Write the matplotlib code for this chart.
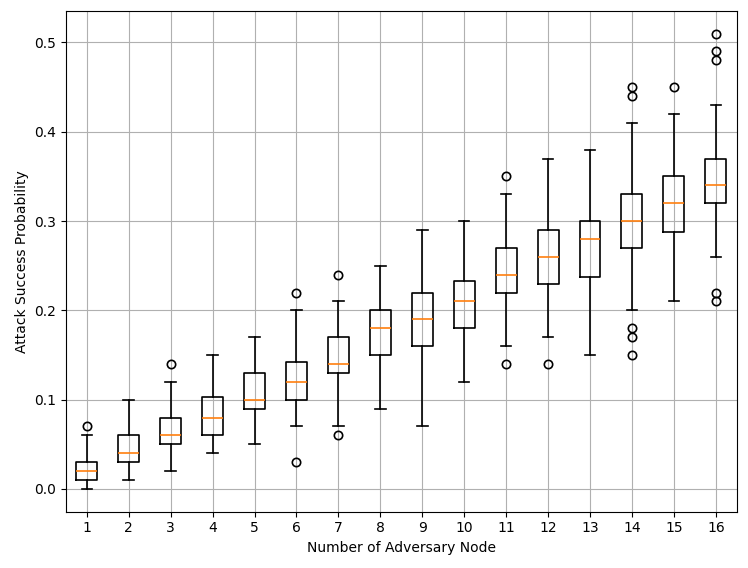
import matplotlib
matplotlib.use("Agg")
import matplotlib.pyplot as plt

# box statistics
nodes = list(range(1, 17))
whislo = [0.00, 0.01, 0.02, 0.04, 0.05, 0.07, 0.07, 0.09, 0.07, 0.12, 0.16, 0.17, 0.15, 0.20, 0.21, 0.26]
q1 = [0.01, 0.03, 0.05, 0.06, 0.09, 0.10, 0.13, 0.15, 0.16, 0.18, 0.22, 0.23, 0.2375, 0.27, 0.2875, 0.32]
med = [0.02, 0.04, 0.06, 0.08, 0.10, 0.12, 0.14, 0.18, 0.19, 0.21, 0.24, 0.26, 0.28, 0.30, 0.32, 0.34]
q3 = [0.03, 0.06, 0.08, 0.1025, 0.13, 0.1425, 0.17, 0.20, 0.22, 0.2325, 0.27, 0.29, 0.30, 0.33, 0.35, 0.37]
whishi = [0.06, 0.10, 0.12, 0.15, 0.17, 0.20, 0.21, 0.25, 0.29, 0.30, 0.33, 0.37, 0.38, 0.41, 0.42, 0.43]
fliers = [
    [0.07],
    [],
    [0.14],
    [],
    [],
    [0.22, 0.03],
    [0.24, 0.06],
    [],
    [],
    [],
    [0.35, 0.14],
    [0.14],
    [],
    [0.45, 0.44, 0.18, 0.17, 0.15],
    [0.45],
    [0.51, 0.49, 0.48, 0.22, 0.21],
]

stats = []
for i in range(len(nodes)):
    stats.append({
        "label": str(nodes[i]),
        "whislo": whislo[i],
        "q1": q1[i],
        "med": med[i],
        "q3": q3[i],
        "whishi": whishi[i],
        "fliers": fliers[i],
    })

lw = 1.2
fig, ax = plt.subplots(figsize=(7.48, 5.68), dpi=100)
ax.bxp(
    stats,
    positions=nodes,
    boxprops={"linewidth": lw},
    whiskerprops={"linewidth": lw},
    capprops={"linewidth": lw},
    medianprops={"linewidth": lw, "color": "C1"},
    flierprops={"markeredgewidth": lw},
)
ax.grid(True)
ax.set_xlabel("Number of Adversary Node")
ax.set_ylabel("Attack Success Probability")
fig.subplots_adjust(left=0.088, right=0.985, top=0.981, bottom=0.099)
fig.savefig("out.png")
